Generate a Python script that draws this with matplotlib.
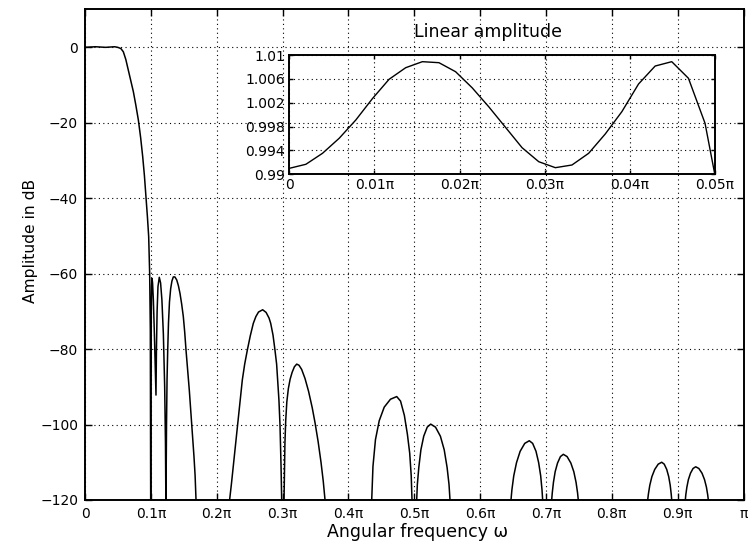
import matplotlib
matplotlib.use("Agg")
import matplotlib.pyplot as plt

plt.rcParams['font.family'] = ['DejaVu Sans']

# magnitude response (frequency in units of pi, amplitude in dB)
freq = [0, 0.008, 0.0157, 0.024, 0.0313, 0.038, 0.045, 0.05,
        0.0545, 0.0582, 0.062, 0.0658, 0.0696, 0.0734, 0.0772, 0.081, 0.0845,
        0.0876, 0.0902, 0.0926, 0.0948, 0.0967, 0.0982, 0.0992, 0.0998,
        # lobes 1-2
        0.1002, 0.1007, 0.1012, 0.1018, 0.1026, 0.1038, 0.1052, 0.1066, 0.1078,
        0.1085, 0.1095, 0.1108, 0.1128, 0.1148, 0.1168, 0.119, 0.121, 0.1222, 0.123,
        # lobe 3
        0.1233, 0.1238, 0.1246, 0.1256, 0.1268, 0.1283, 0.1301, 0.132, 0.1341,
        0.1365, 0.1393, 0.1418, 0.1443, 0.1468, 0.1493, 0.1514, 0.1534, 0.156,
        0.1584, 0.162, 0.1655, 0.1672, 0.1686, 0.19,
        # lobe 4
        0.2196, 0.2225, 0.2252, 0.2285, 0.2319, 0.2355, 0.2389, 0.2425, 0.2465,
        0.251, 0.2556, 0.2595, 0.2635, 0.2698, 0.275, 0.2795, 0.282, 0.2855,
        0.2885, 0.291, 0.2926, 0.2945, 0.2961, 0.2977, 0.2987, 0.3005,
        # lobe 5
        0.3022, 0.3028, 0.3036, 0.3048, 0.3065, 0.3088, 0.3115, 0.3145, 0.318,
        0.3215, 0.325, 0.329, 0.3341, 0.3395, 0.345, 0.3493, 0.354, 0.3584,
        0.3618, 0.3645, 0.40,
        # lobe 6
        0.4354, 0.4373, 0.4411, 0.4468, 0.4544, 0.4639, 0.4734,
        0.4792, 0.485, 0.4896, 0.4931, 0.4954, 0.4966, 0.50,
        # lobe 7
        0.5037, 0.5047, 0.5069, 0.5101, 0.5144, 0.5197, 0.525,
        0.5323, 0.5397, 0.5455, 0.5499, 0.5528, 0.5543, 0.60,
        # lobe 8
        0.6469, 0.6483, 0.6511, 0.6553, 0.6608, 0.6678, 0.6747,
        0.6798, 0.6849, 0.6889, 0.692, 0.694, 0.695, 0.702,
        # lobe 9
        0.7087, 0.7096, 0.7114, 0.714, 0.7176, 0.722, 0.7264,
        0.7321, 0.7378, 0.7423, 0.7457, 0.748, 0.7491, 0.80,
        # lobe 10
        0.8545, 0.8556, 0.8577, 0.8609, 0.8652, 0.8705, 0.8758,
        0.8796, 0.8834, 0.8864, 0.8887, 0.8902, 0.891, 0.901,
        # lobe 11
        0.9116, 0.9124, 0.914, 0.9163, 0.9195, 0.9234, 0.9274,
        0.9322, 0.937, 0.9408, 0.9437, 0.9456, 0.9466, 1.0]

amp_db = [-0.08, 0.0, 0.08, 0.0, -0.08, 0.0, 0.08, -0.09,
          -0.4, -1.25, -3.3, -6.1, -8.9, -11.8, -15.4, -19.3, -24,
          -29, -34, -39.7, -45, -50.2, -60, -75, -125,
          -90, -70, -63, -61.3, -62.5, -67, -75, -84, -92.2,
          -80, -70, -63.5, -61, -62.5, -67, -76, -90, -105, -125,
          -112, -100, -88, -80.3, -73, -67.5, -64, -62, -60.9,
          -60.9, -61.7, -63.2, -65.3, -68.1, -71.4, -75.5, -80.3, -85.7,
          -90.9, -99.9, -108.5, -113.5, -120, -140,
          -120, -115.5, -111, -105.5, -100, -94, -88.2, -84, -80.3,
          -76.5, -73.2, -71.4, -70.2, -69.6, -70.3, -71.8, -73.2, -76.3,
          -80.3, -84, -88.2, -93.5, -100, -111, -120, -140,
          -120, -112, -105, -99, -94, -90.5, -88, -86.2, -84.7,
          -84, -84.3, -85.4, -87.8, -91.2, -95.5, -99.5, -104.5, -110,
          -115, -120, -140,
          -120, -111.1, -104.0, -99.0, -95.4, -93.3, -92.6,
          -93.8, -97.6, -102.6, -107.6, -113.6, -120, -140,
          -120, -115.9, -111.4, -106.7, -103.1, -100.7, -99.9,
          -100.7, -103.1, -106.7, -111.4, -115.9, -120, -140,
          -120, -117.3, -113.6, -110.1, -107.1, -105.0, -104.3,
          -105.0, -107.1, -110.1, -113.6, -117.3, -120, -140,
          -120, -118.1, -115.3, -112.5, -110.2, -108.5, -107.9,
          -108.5, -110.2, -112.5, -115.3, -118.1, -120, -140,
          -120, -118.4, -116.1, -113.8, -111.9, -110.5, -110,
          -110.5, -111.9, -113.8, -116.1, -118.4, -120, -140,
          -120, -118.6, -116.6, -114.6, -112.9, -111.65, -111.2,
          -111.65, -112.9, -114.6, -116.6, -118.6, -120, -140]

# passband detail (linear amplitude)
pass_freq = [0, 0.00195, 0.0039, 0.00586, 0.00781, 0.00977, 0.01172, 0.01367,
             0.01563, 0.01758, 0.01953, 0.02148, 0.02344, 0.02539, 0.02734,
             0.0293, 0.03125, 0.0332, 0.03516, 0.03711, 0.03906, 0.04102,
             0.04297, 0.04492, 0.04688, 0.04883, 0.05078]
pass_amp = [0.9910, 0.99168, 0.99352, 0.99604, 0.9991, 1.0027, 1.00593, 1.00787,
            1.00888, 1.00871, 1.0072, 1.0045, 1.0013, 0.99788, 0.99446,
            0.99211, 0.99111, 0.99156, 0.99352, 0.99676, 1.0005, 1.00514,
            1.00815, 1.00888, 1.0061, 0.99855, 0.984]

xticks = [0, 0.1, 0.2, 0.3, 0.4, 0.5, 0.6, 0.7, 0.8, 0.9, 1.0]
xticklabels = ['0', '0.1π', '0.2π', '0.3π', '0.4π', '0.5π', '0.6π', '0.7π', '0.8π', '0.9π', 'π']
yticks = [-120, -100, -80, -60, -40, -20, 0]

inset_xticks = [0, 0.01, 0.02, 0.03, 0.04, 0.05]
inset_xticklabels = ['0', '0.01π', '0.02π', '0.03π', '0.04π', '0.05π']
inset_yticks = [0.99, 0.994, 0.998, 1.002, 1.006, 1.01]
inset_yticklabels = ['0.99', '0.994', '0.998', '1.002', '1.006', '1.01']

grid_style = dict(color='black', linestyle=(0, (1, 3)), linewidth=0.8)

fig = plt.figure(figsize=(7.49, 5.52), dpi=100)

# main plot
ax = fig.add_axes([85/749, 1-500/552, 658.5/749, 490.7/552])
ax.plot(freq, amp_db, color='black', linewidth=1.1)
ax.set_xlim(0, 1)
ax.set_ylim(-120, 10)
ax.set_xticks(xticks)
ax.set_xticklabels(xticklabels)
ax.set_yticks(yticks)
ax.set_yticklabels([str(v).replace('-', '\u2212') for v in yticks])
ax.grid(True, **grid_style)
ax.tick_params(direction='in', length=5, width=1.0, top=True, right=True,
               labelsize=10, pad=5)
for s in ax.spines.values():
    s.set_linewidth(1.4)
ax.set_xlabel('Angular frequency ω', fontsize=12.5)
ax.set_ylabel('Amplitude in dB', fontsize=11.2)
ax.xaxis.set_label_coords(0.505, -0.047)
ax.yaxis.set_label_coords(-0.072, 0.527)

# inset with passband ripple
ax2 = fig.add_axes([289.3/749, 1-174.3/552, 425.7/749, 119.3/552])
ax2.patch.set_alpha(0)
ax2.plot(pass_freq, pass_amp, color='black', linewidth=1.0)
ax2.set_xlim(0, 0.05)
ax2.set_ylim(0.99, 1.01)
ax2.set_xticks(inset_xticks)
ax2.set_xticklabels(inset_xticklabels)
ax2.set_yticks(inset_yticks)
ax2.set_yticklabels(inset_yticklabels)
ax2.grid(True, **grid_style)
ax2.tick_params(direction='in', length=3, width=1.0, top=True, right=True,
                labelsize=10, pad=3)
for s in ax2.spines.values():
    s.set_linewidth(1.4)
ax2.text(0.467, 1.151, 'Linear amplitude', transform=ax2.transAxes,
         ha='center', va='baseline', fontsize=12.5)

fig.savefig('out.png', dpi=100)
